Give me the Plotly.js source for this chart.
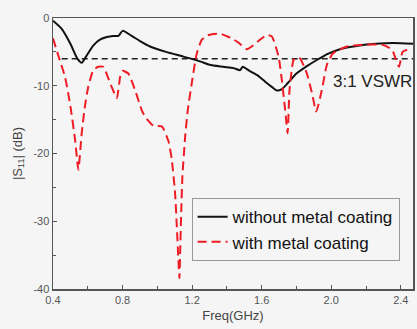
<!DOCTYPE html>
<html>
<head>
<meta charset="utf-8">
<script src="https://cdn.plot.ly/plotly-3.0.1.min.js"></script>
<style>html,body{margin:0;padding:0;background:#f5f5f5;}#chart{width:417px;height:329px;}</style>
</head>
<body>
<div id="chart"></div>
<script>
// without metal coating (solid black)
const freqWithout = [0.40, 0.45, 0.50, 0.54, 0.565, 0.59, 0.63, 0.67, 0.71, 0.745, 0.776, 0.80, 0.85, 0.90, 0.958, 1.05, 1.15, 1.246, 1.30, 1.38, 1.438, 1.476, 1.49, 1.53, 1.572, 1.62, 1.66, 1.687, 1.716, 1.75, 1.80, 1.86, 1.917, 1.98, 2.05, 2.13, 2.205, 2.28, 2.36, 2.47];
const s11Without  = [-0.4, -1.6, -3.8, -6.0, -6.6, -5.7, -4.1, -3.2, -2.8, -2.65, -2.65, -1.9, -2.6, -3.4, -4.2, -5.0, -5.7, -6.4, -6.9, -7.2, -7.4, -7.7, -7.2, -7.8, -8.4, -9.4, -10.2, -10.7, -10.5, -9.6, -8.2, -7.1, -6.2, -5.3, -4.6, -4.2, -3.9, -3.75, -3.7, -3.8];

// with metal coating (dashed red)
const freqWith = [0.40, 0.43, 0.469, 0.50, 0.527, 0.546, 0.565, 0.585, 0.603, 0.632, 0.66, 0.69, 0.728, 0.767, 0.786, 0.80, 0.833, 0.87, 0.91, 0.93, 0.977, 1.026, 1.064, 1.083, 1.102, 1.112, 1.121, 1.127, 1.131, 1.138, 1.144, 1.16, 1.175, 1.198, 1.227, 1.256, 1.285, 1.313, 1.36, 1.40, 1.428, 1.47, 1.515, 1.553, 1.59, 1.63, 1.659, 1.697, 1.715, 1.735, 1.749, 1.76, 1.783, 1.80, 1.82, 1.86, 1.889, 1.914, 1.946, 1.975, 2.01, 2.09, 2.205, 2.30, 2.35, 2.37, 2.39, 2.41, 2.435, 2.45];
const s11With  = [-3.0, -5.5, -8.7, -13.0, -18.0, -22.4, -17.0, -12.8, -10.1, -7.7, -7.2, -7.2, -9.6, -11.8, -8.7, -7.8, -8.2, -10.5, -13.6, -14.6, -15.9, -16.0, -18.2, -20.9, -25.9, -30.8, -35.7, -38.4, -34.7, -28.0, -23.4, -17.5, -13.6, -9.6, -5.2, -3.2, -2.6, -2.4, -2.3, -2.7, -3.0, -3.7, -4.6, -4.0, -3.2, -2.5, -2.75, -5.7, -9.0, -13.6, -17.0, -10.6, -6.2, -5.8, -5.95, -8.2, -11.1, -13.8, -10.6, -6.9, -5.2, -4.2, -3.9, -4.0, -4.7, -6.0, -7.2, -5.0, -4.7, -4.6];

// 3:1 VSWR reference line
const vswrFreq = [0.45, 2.47];
const vswrLevel = [-6.02, -6.02];
const vswrLabel = '3:1 VSWR';

const xTickVals = [0.4, 0.8, 1.2, 1.6, 2.0, 2.4];
const xTickText = ['0.4', '0.8', '1.2', '1.6', '2.0', '2.4'];
const yTickVals = [0, -10, -20, -30, -40];
const yTickText = ['0', '-10', '-20', '-30', '-40'];

const FONT = 'Liberation Sans, Arial, sans-serif';

const traces = [
  {x: vswrFreq, y: vswrLevel, mode: 'lines', showlegend: false, hoverinfo: 'skip',
   line: {color: '#222', width: 1.5, dash: '6px,4px'}},
  {x: freqWithout, y: s11Without, mode: 'lines', name: 'without metal coating',
   line: {color: '#111', width: 2, shape: 'spline', smoothing: 0.6}},
  {x: freqWith, y: s11With, mode: 'lines', name: 'with metal coating',
   line: {color: '#ee1c25', width: 2, dash: '9px,5px', shape: 'spline', smoothing: 0.5}}
];

const axisCommon = {
  showline: true, mirror: true, linecolor: '#555', linewidth: 1.5,
  ticks: 'inside', ticklen: 4, tickwidth: 1, tickcolor: '#555',
  showgrid: false, zeroline: false,
  tickfont: {family: FONT, size: 11, color: '#555'}
};

const layout = {
  width: 417, height: 329,
  margin: {l: 53, r: 4, t: 18, b: 40},
  paper_bgcolor: '#f5f5f5', plot_bgcolor: '#f5f5f5',
  font: {family: FONT, size: 12, color: '#333'},
  xaxis: Object.assign({}, axisCommon, {
    range: [0.4, 2.47], tickvals: xTickVals, ticktext: xTickText,
    minor: {ticks: 'inside', ticklen: 3, tickcolor: '#555', dtick: 0.2, tick0: 0.4, showgrid: false},
    title: {text: 'Freq(GHz)', font: {family: FONT, size: 13, color: '#444'}, standoff: 6}
  }),
  yaxis: Object.assign({}, axisCommon, {
    range: [-40, 0], tickvals: yTickVals, ticktext: yTickText,
    minor: {ticks: 'inside', ticklen: 3, tickcolor: '#555', dtick: 5, tick0: 0, showgrid: false},
    title: {text: '|S<sub>11</sub>| (dB)', font: {family: FONT, size: 13, color: '#444'}, standoff: 8}
  }),
  showlegend: true,
  legend: {
    x: 0.385, y: 0.335, xanchor: 'left', yanchor: 'top',
    bgcolor: '#f5f5f5', bordercolor: '#999', borderwidth: 1,
    font: {family: FONT, size: 17, color: '#111'},
    tracegroupgap: 0, itemwidth: 30
  },
  annotations: [{
    x: 2.0, y: -9.4, xref: 'x', yref: 'y', text: vswrLabel, showarrow: false,
    xanchor: 'left', yanchor: 'middle',
    font: {family: FONT, size: 17, color: '#222'}
  }]
};

Plotly.newPlot('chart', traces, layout, {displayModeBar: false, staticPlot: true});
</script>
</body>
</html>
